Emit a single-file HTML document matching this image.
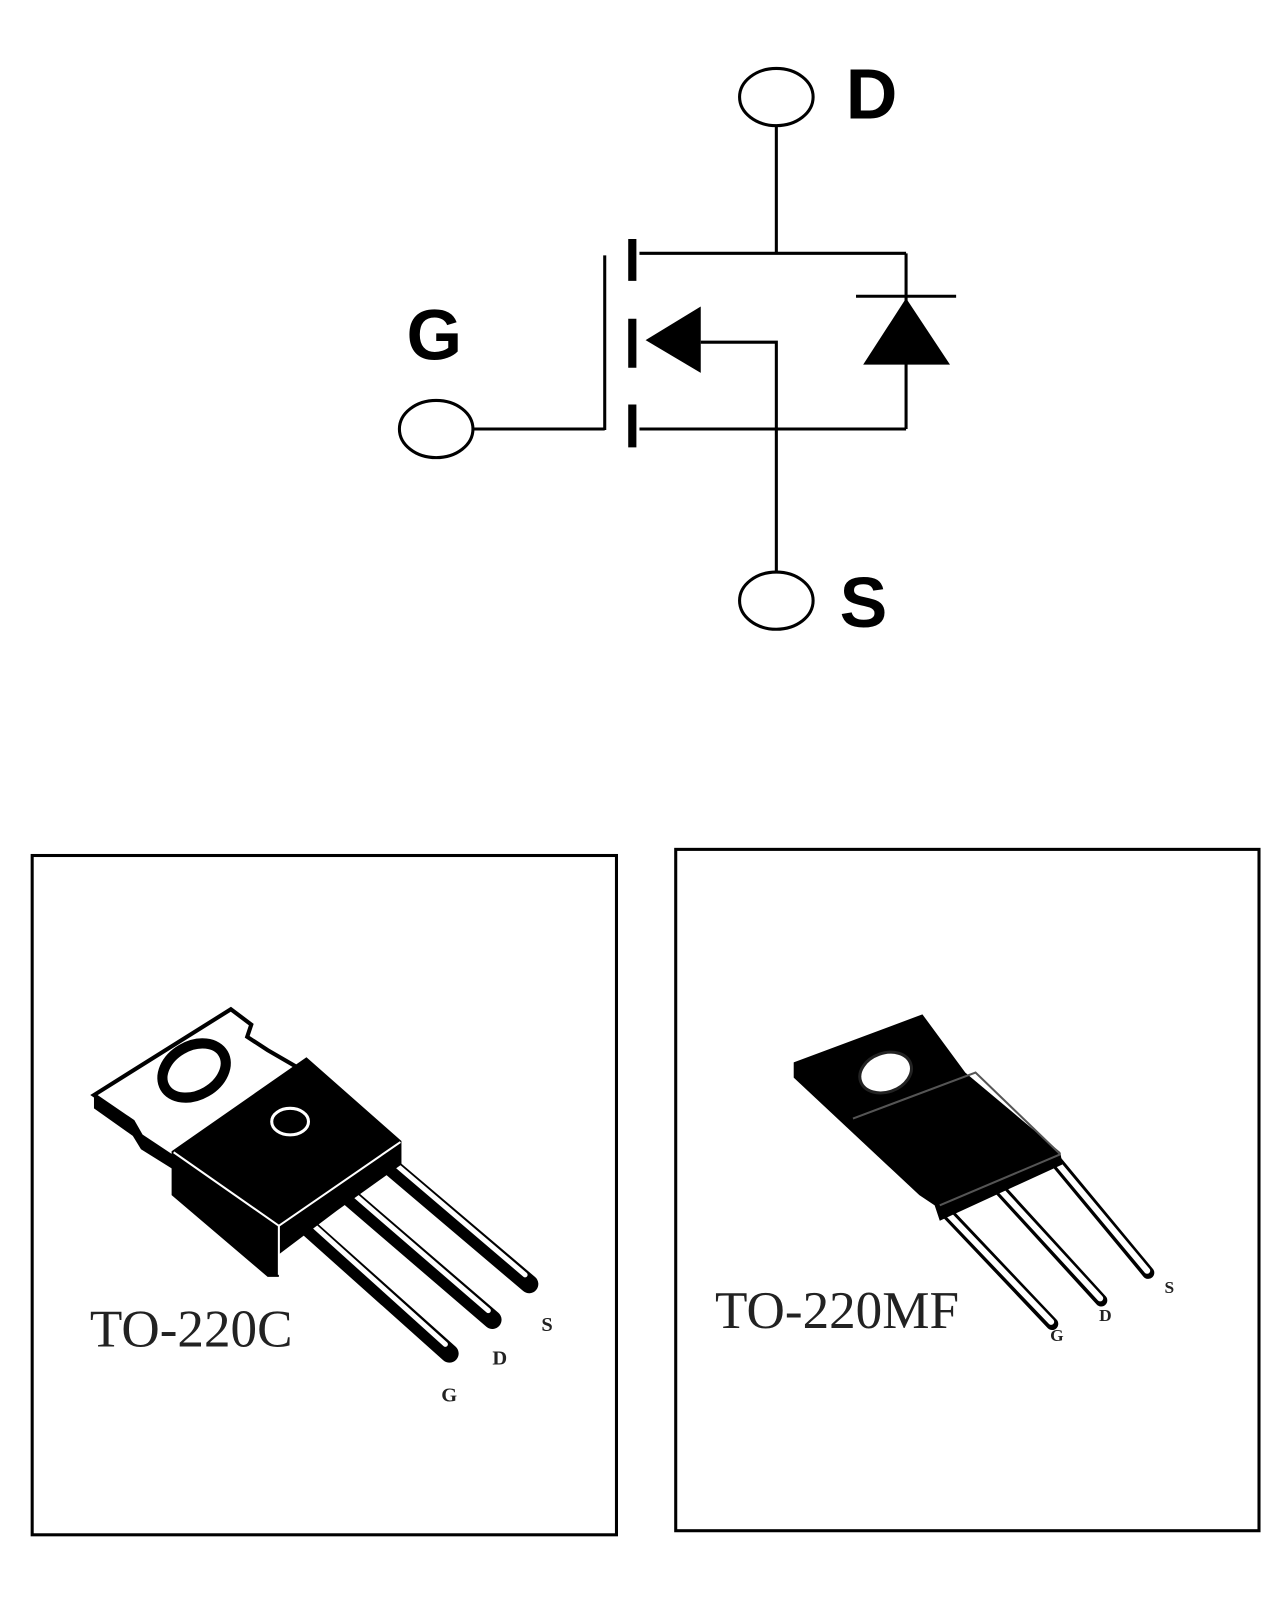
<!DOCTYPE html>
<html><head><meta charset="utf-8"><style>
html,body{margin:0;padding:0;background:#fff;}
svg{display:block;}
</style></head><body>
<svg width="1287" height="1600" viewBox="0 0 1287 1600" xmlns="http://www.w3.org/2000/svg">
<rect width="1287" height="1600" fill="#fff"/>
<g transform="scale(1.0215)">
<g stroke="#000" stroke-width="3" fill="none">
  <ellipse cx="760" cy="95" rx="36" ry="28"/>
  <ellipse cx="760" cy="588" rx="36" ry="28"/>
  <ellipse cx="427" cy="420" rx="36" ry="28"/>
  <line x1="760" y1="123" x2="760" y2="248"/>
  <line x1="626" y1="248" x2="887" y2="248"/>
  <line x1="887" y1="248" x2="887" y2="420"/>
  <line x1="626" y1="420" x2="887" y2="420"/>
  <line x1="463" y1="420" x2="592" y2="420"/>
  <line x1="592" y1="250" x2="592" y2="421"/>
  <polyline points="686,335 760,335 760,560"/>
  <line x1="838" y1="290" x2="936" y2="290"/>
</g>
<g stroke="#000" stroke-width="8">
  <line x1="619" y1="234" x2="619" y2="275"/>
  <line x1="619" y1="312" x2="619" y2="360"/>
  <line x1="619" y1="396" x2="619" y2="438"/>
</g>
<polygon points="632,333 686,300 686,365" fill="#000"/>
<polygon points="887,292 845,357 930,357" fill="#000"/>
<g font-family="Liberation Sans, sans-serif" font-weight="bold" fill="#000">
  <text x="828" y="116" font-size="70">D</text>
  <text x="398" y="352" font-size="70">G</text>
  <text x="822" y="614" font-size="70">S</text>
</g>

<rect x="31.5" y="837.5" width="572" height="665" fill="none" stroke="#000" stroke-width="3"/>
<rect x="661.5" y="831.5" width="571" height="667" fill="none" stroke="#000" stroke-width="3"/>

<g>
  <g stroke="#000" stroke-linecap="round">
    <line x1="300" y1="1200" x2="440" y2="1325" stroke-width="18"/>
    <line x1="340" y1="1170" x2="482" y2="1292" stroke-width="18"/>
    <line x1="380" y1="1140" x2="518" y2="1257" stroke-width="18"/>
  </g>
  <g stroke="#fff" stroke-linecap="round" stroke-width="5">
    <line x1="305" y1="1198" x2="436" y2="1316"/>
    <line x1="345" y1="1168" x2="478" y2="1283"/>
    <line x1="385" y1="1138" x2="514" y2="1248"/>
  </g>
  <polygon points="92,1072 226,988 246,1003 242,1015 262,1028 300,1050 180,1140 138,1112 130,1098" fill="#fff" stroke="#000" stroke-width="4"/>
  <polygon points="92,1072 92,1085 130,1112 138,1125 178,1150 180,1140 138,1112 130,1098" fill="#000"/>
  <ellipse cx="190" cy="1048" rx="33" ry="24" transform="rotate(-30 190 1048)" fill="#fff" stroke="#000" stroke-width="10"/>
  <polygon points="168,1127 300,1035 393,1117 393,1140 330,1185 273,1228 273,1250 262,1250 168,1170" fill="#000"/>
  <polyline points="170,1128 273,1200 392,1118" fill="none" stroke="#fff" stroke-width="2"/>
  <line x1="273" y1="1200" x2="273" y2="1248" stroke="#fff" stroke-width="2"/>
  <ellipse cx="284" cy="1098" rx="18" ry="13" fill="none" stroke="#fff" stroke-width="3"/>
  <text x="88" y="1318" font-family="Liberation Serif, serif" font-size="52" fill="#222">TO-220C</text>
  <g font-family="Liberation Serif, serif" font-weight="bold" font-size="20" fill="#222">
    <text x="530" y="1303">S</text>
    <text x="482" y="1336">D</text>
    <text x="432" y="1372">G</text>
  </g>
</g>

<g>
  <g stroke="#000" stroke-linecap="round" stroke-width="12">
    <line x1="925" y1="1185" x2="1030" y2="1296"/>
    <line x1="975" y1="1160" x2="1078" y2="1273"/>
    <line x1="1028" y1="1130" x2="1124" y2="1246"/>
  </g>
  <g stroke="#fff" stroke-linecap="round" stroke-width="6">
    <line x1="925" y1="1185" x2="1029" y2="1294"/>
    <line x1="975" y1="1160" x2="1077" y2="1271"/>
    <line x1="1028" y1="1130" x2="1123" y2="1244"/>
  </g>
  <polygon points="777,1040 903,993 945,1050 1038,1128 1040,1140 920,1195 915,1180 900,1170 777,1055" fill="#000"/>
  <polyline points="835,1095 955,1050 1038,1130" fill="none" stroke="#555" stroke-width="2"/>
  <line x1="920" y1="1180" x2="1038" y2="1130" stroke="#555" stroke-width="2"/>
  <ellipse cx="867" cy="1050" rx="26" ry="19" transform="rotate(-20 867 1050)" fill="#fff" stroke="#222" stroke-width="3"/>
  <text x="700" y="1300" font-family="Liberation Serif, serif" font-size="52" fill="#222">TO-220MF</text>
  <g font-family="Liberation Serif, serif" font-weight="bold" font-size="17" fill="#222">
    <text x="1140" y="1266">S</text>
    <text x="1076" y="1293">D</text>
    <text x="1028" y="1313">G</text>
  </g>
</g>
</g>
</svg>
</body></html>
